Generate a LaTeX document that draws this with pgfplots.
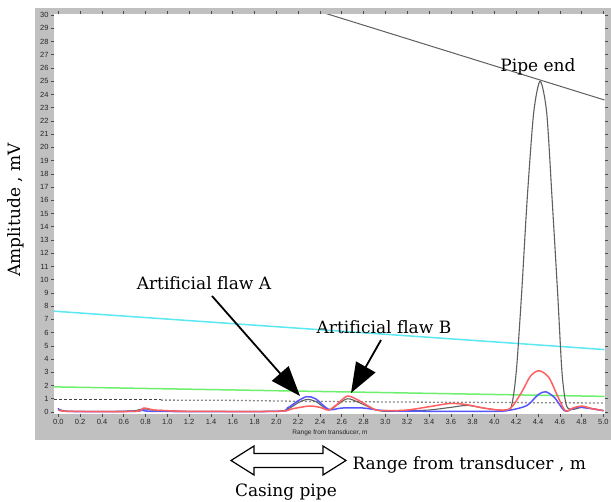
\documentclass[border=0pt]{standalone}
\usepackage{pgfplots}
\pgfplotsset{compat=1.18}
\usepackage{fontspec}
\usetikzlibrary{arrows.meta}
\newfontfamily\arial{Liberation Sans}
\newfontfamily\cent[Ligatures=NoCommon]{DejaVu Serif}
\definecolor{wblack}{RGB}{95,95,95}
\definecolor{wred}{RGB}{255,95,95}
\definecolor{wblue}{RGB}{85,85,255}
\definecolor{wcyan}{RGB}{90,232,242}
\definecolor{wgreen}{RGB}{110,240,110}
\definecolor{panel}{RGB}{192,192,192}
\begin{document}
\begin{tikzpicture}[x=1pt,y=1pt]
\useasboundingbox (0,0) rectangle (611,502);
\fill[panel] (35,62) rectangle (611,494);
\begin{axis}[
  at={(54pt,88pt)}, anchor=south west, scale only axis,
  width=550.5pt, height=399.6pt,
  xmin=-0.04, xmax=5.01, ymin=-0.15, ymax=30.05,
  axis background/.style={fill=white},
  axis line style={draw=none},
  tick align=outside, major tick length=3pt,
  tick style={black!70, line width=0.6pt},
  xtick={0,0.2,...,5.01}, ytick={0,1,...,30},
  xticklabel style={font=\arial\fontsize{7.5}{8}\selectfont, black!85, yshift=1pt},
  yticklabel style={font=\arial\fontsize{7.5}{8}\selectfont, black!85, xshift=1pt},
  /pgf/number format/assume math mode=true,
  xticklabel={\pgfmathprintnumber[fixed,fixed zerofill,precision=1]{\tick}},
  yticklabel={\pgfmathprintnumber[fixed,precision=0]{\tick}},
  every axis plot/.append style={line width=1.5pt},
]
% envelope / threshold lines
\addplot[wblack, line width=1pt] coordinates {(2.45,30.13) (5.01,23.58)};
\addplot[wcyan] coordinates {(-0.04,7.62) (5.01,4.72)};
\addplot[wgreen] coordinates {(-0.04,1.9) (5.01,1.18)};
\addplot[black!75, line width=0.8pt, dash pattern=on 3pt off 2pt] coordinates {(-0.04,0.92) (0.94,0.92)};
\addplot[black!45, line width=1.3pt, dash pattern=on 2pt off 2pt] coordinates {(0.94,0.9) (1.6,0.88) (2.3,0.8) (3.0,0.76) (4.0,0.72) (5.01,0.68)};
% waveforms
\addplot[wblack, line width=1.1pt, smooth, tension=0.45] coordinates {
(0,0.2) (0.05,0.1) (0.1,0.05) (0.5,0.05) (0.7,0.1) (0.78,0.25) (0.86,0.15) (1.0,0.1) (1.2,0.05) (1.6,0.05) (2.0,0.05)
(2.1,0.2) (2.2,0.7) (2.28,0.95) (2.36,0.8) (2.48,0.15) (2.56,0.55) (2.65,1.0) (2.75,0.75) (2.9,0.2) (3.0,0.05)
(3.2,0.1) (3.4,0.15) (3.6,0.35) (3.75,0.5) (3.9,0.3) (4.05,0.15) (4.15,0.3) (4.2,3) (4.25,9) (4.3,16) (4.36,22.6)
(4.42,25) (4.48,22.6) (4.53,16) (4.58,9) (4.62,3) (4.66,0.5) (4.72,0.2) (4.8,0.35) (4.9,0.25) (5.0,0.1)};
\addplot[wblue, smooth, tension=0.5] coordinates {
(0,0.3) (0.08,0.05) (0.7,0.05) (0.78,0.2) (0.88,0.05) (2.0,0.05) (2.1,0.3) (2.2,0.85) (2.28,1.16) (2.36,1.0)
(2.48,0.2) (2.6,0.3) (2.8,0.3) (3.0,0.1) (3.5,0.05) (4.0,0.05) (4.15,0.15) (4.3,0.5) (4.4,1.3) (4.47,1.53)
(4.55,1.1) (4.62,0.3) (4.66,0.05) (4.75,0.35) (4.85,0.3) (5.0,0.1)};
\addplot[wred, smooth, tension=0.5] coordinates {
(0,0.15) (0.1,0.05) (0.7,0.05) (0.78,0.3) (0.88,0.15) (1.0,0.1) (1.2,0.05) (2.0,0.05) (2.15,0.25) (2.3,0.45)
(2.4,0.35) (2.48,0.15) (2.56,0.6) (2.65,1.2) (2.75,0.9) (2.9,0.2) (3.0,0.1) (3.2,0.15) (3.4,0.4) (3.6,0.65)
(3.75,0.55) (3.9,0.3) (4.05,0.15) (4.15,0.3) (4.25,1.5) (4.33,2.7) (4.41,3.12) (4.5,2.6) (4.58,1.2) (4.65,0.1)
(4.72,0.3) (4.8,0.45) (4.9,0.25) (5.0,0.1)};
\end{axis}
% small axis title inside panel
\node[font=\arial\fontsize{6.5}{7}\selectfont, black!85] at (330,69) {Range from transducer, m};
% annotations
\begin{scope}[font=\cent\fontsize{17}{19}\selectfont]
\node at (538,435) {Pipe end};
\node at (204,219) {Artificial flaw A};
\node at (384,175) {Artificial flaw B};
\node[rotate=90] at (16,292) {Amplitude , mV};
\node[anchor=west] at (349,37) {Range from transducer , m};
\node at (286,10) {Casing pipe};
\end{scope}
\draw[line width=1.8pt, -{Triangle[length=30pt,width=22pt]}] (212,206) -- (300,106);
\draw[line width=1.8pt, -{Triangle[length=30pt,width=22pt]}] (381,162) -- (351,109);
\draw[line width=1.2pt, fill=white] (231,41.5) -- (254,56) -- (254,48.5) -- (323,48.5) -- (323,56) -- (346,41.5)
  -- (323,27) -- (323,34.5) -- (254,34.5) -- (254,27) -- cycle;
\end{tikzpicture}
\end{document}
